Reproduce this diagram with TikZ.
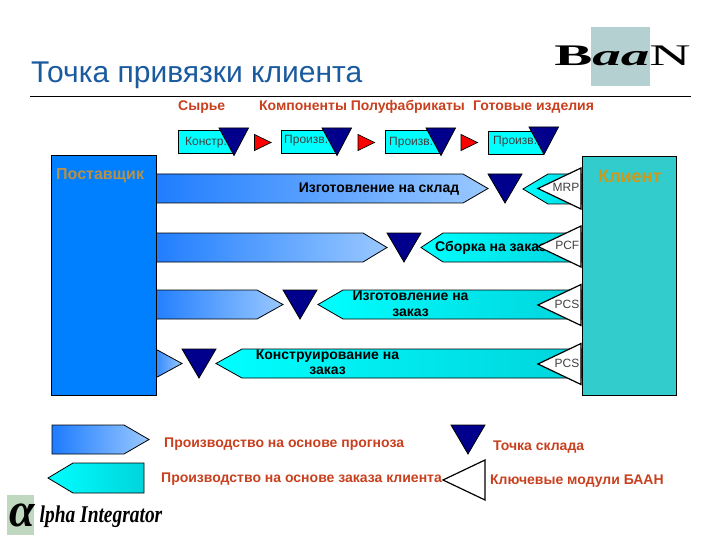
\documentclass[tikz,border=0pt]{standalone}
\usepackage{fontspec}
\setmainfont{Liberation Sans}
\newfontfamily\logoserif{Liberation Serif}
\usepackage{graphicx}
\definecolor{titleblue}{HTML}{1A5A9E}
\definecolor{labelred}{HTML}{C8401E}
\definecolor{stockblue}{HTML}{00008C}
\definecolor{suppliercol}{HTML}{0080FF}
\definecolor{clientcol}{HTML}{33CCCC}
\definecolor{suppliertext}{HTML}{B89048}
\definecolor{clienttext}{HTML}{D09818}
\definecolor{logogrey}{HTML}{B5D0D0}
\definecolor{logogreen}{HTML}{C0D8C0}
\definecolor{orderfill}{HTML}{00FFFF}
\definecolor{orderend}{HTML}{00D4DC}
\definecolor{forecastend}{HTML}{99C8FF}
\definecolor{forecaststart}{HTML}{1E7CFF}
\tikzset{
  stockmark/.style={draw=black,fill=stockblue,line width=0.8pt},
  modulemark/.style={draw=black,fill=white,line width=1.2pt},
  redmark/.style={draw=black,fill=red,line width=0.7pt},
  forecastarrow/.style={draw=black,line width=0.8pt,left color=forecaststart,right color=forecastend},
  orderarrow/.style={draw=black,line width=0.8pt,left color=orderfill,right color=orderend},
  redtext/.style={text=labelred,inner sep=0,text height=10pt,text depth=3pt,font=\bfseries\fontsize{14}{16}\selectfont},
  blacktext/.style={text=black,inner sep=0,align=center,font=\bfseries\fontsize{14}{15.5}\selectfont},
  smalltext/.style={text=black!75,inner sep=0,font=\fontsize{12}{14}\selectfont}
}
\begin{document}
\begin{tikzpicture}[x=1pt,y=-1pt]
        \useasboundingbox (0,0) rectangle (720,540);
        % title and logo
        \node[anchor=west,inner sep=0,text=titleblue,font=\fontsize{30}{33}\selectfont] (title) at (31,75.5) {Точка привязки клиента};
        \coordinate (ruleL) at (30,96.5);
        \coordinate (ruleR) at (691,96.5);
        \draw[line width=0.7pt] (ruleL) -- (ruleR);
        \fill[logogrey] (591,27) rectangle (650,86);
        \node[anchor=center,inner sep=0,font=\logoserif\fontsize{34}{34}\selectfont] (baan) at (622.5,56) {\scalebox{1.68}[0.88]{\textbf{B}\textit{\textbf{aa}}N}};
        % column heads
        \node[redtext,anchor=west] (raw) at (178,107.5) {Сырье};
        \node[redtext,anchor=west] (parts) at (259,107.5) {Компоненты Полуфабрикаты};
        \node[redtext,anchor=west] (ready) at (473,107.5) {Готовые изделия};
        % top boxes
        \foreach \x/\y/\tx/\ty/\txt/\n in {178/130/185/143/Констр./a,281/130/284/141/Произв./b,385/130/389/143/Произв./c,488/131/493/142/Произв./d} {
            \draw[fill=orderfill,line width=0.8pt] (\x,\y) rectangle ++(55,23);
            \node[smalltext,anchor=west] (box\n) at (\tx,\ty) {\txt};
        }
        \foreach \x/\y in {219/128,322/128,426/128,529/127} {
            \draw[stockmark] (\x,\y) -- ++(29.5,0) -- ++(-14.5,27.5) -- cycle;
        }
        \foreach \x/\y in {254.5/142.5,358/142.5,461/142.5} {
            \draw[redmark] (\x,\y-8) -- ++(16.5,8) -- ++(-16.5,8) -- cycle;
        }
        % forecast arrows
        \draw[forecastarrow] (150,174) -- (463,174) -- (488,188.5) -- (463,203) -- (150,203) -- cycle;
        \draw[forecastarrow] (150,233) -- (363,233) -- (387,247.5) -- (363,262) -- (150,262) -- cycle;
        \draw[forecastarrow] (150,290) -- (257,290) -- (283,304.5) -- (257,319) -- (150,319) -- cycle;
        \draw[forecastarrow] (150,346) -- (182,363.5) -- (150,381) -- cycle;
        % order arrows
        \draw[orderarrow] (523,189) -- (548,174) -- (582,174) -- (582,204) -- (548,204) -- cycle;
        \draw[orderarrow] (421,247.5) -- (443,233) -- (582,233) -- (582,262) -- (443,262) -- cycle;
        \draw[orderarrow] (318,304.5) -- (343,290) -- (582,290) -- (582,319) -- (343,319) -- cycle;
        \draw[orderarrow] (216,363.5) -- (242,349) -- (582,349) -- (582,378) -- (242,378) -- cycle;
        % stock points
        \foreach \x/\y in {488/174,387/233,283/290,182/349,451/425} {
            \draw[stockmark] (\x,\y) -- ++(34,0) -- ++(-17,29) -- cycle;
        }
        % suppliers and clients
        \node[draw=black,fill=suppliercol,line width=0.7pt,minimum width=105pt,minimum height=240pt,inner sep=0,anchor=north west] (supplier) at (51,155) {};
        \node[draw=black,fill=clientcol,line width=0.7pt,minimum width=94pt,minimum height=239pt,inner sep=0,anchor=north west] (client) at (582,156) {};
        \node[anchor=west,inner sep=0,text=suppliertext,font=\bfseries\fontsize{16}{18}\selectfont] (supplierlabel) at (56,176) {Поставщик};
        \node[anchor=west,inner sep=0,text=clienttext,font=\bfseries\fontsize{18}{20}\selectfont] (clientlabel) at (598,176) {Клиент};
        % row labels
        \node[blacktext] (stock) at (379,189) {Изготовление на склад};
        \node[blacktext,anchor=west] (assemble) at (435,248) {Сборка на заказ};
        \node[blacktext] (make) at (410.5,304) {Изготовление на\\заказ};
        \node[blacktext] (design) at (327.5,362.5) {Конструирование на\\заказ};
        % key modules
        \foreach \y/\txt/\n in {188.5/MRP/mrp,246.5/PCF/pcf,305/PCS/pcsa,364/PCS/pcsb} {
            \draw[modulemark] (581,\y-20.5) -- (581,\y+20.5) -- (538,\y) -- cycle;
            \node[smalltext,anchor=east] (\n) at (579.5,\y-1) {\txt};
        }
        % legend
        \draw[forecastarrow] (52,425) -- (124,425) -- (149,439.5) -- (124,454) -- (52,454) -- cycle;
        \draw[orderarrow] (48,478) -- (73,463) -- (144,463) -- (144,493) -- (73,493) -- cycle;
        \draw[modulemark] (485,460) -- (485,500) -- (443,480) -- cycle;
        \node[redtext,anchor=west] (forecast) at (164,444) {Производство на основе прогноза};
        \node[redtext,anchor=west] (order) at (161,479) {Производство на основе заказа клиента};
        \node[redtext,anchor=west] (stockkey) at (493,446.5) {Точка склада};
        \node[redtext,anchor=west] (modulekey) at (490,480.5) {Ключевые модули БААН};
        % lower logo
        \fill[logogreen] (7,495) rectangle (34,535);
        \node[anchor=center,inner sep=0,font=\logoserif\itshape\bfseries\fontsize{40}{40}\selectfont] (alpha) at (22,515) {\scalebox{1.15}[1.2]{α}};
        \node[anchor=west,inner sep=0,font=\logoserif\itshape\bfseries\fontsize{24}{24}\selectfont] (integrator) at (39.5,517) {\scalebox{0.81}[1]{lpha Integrator}};
\end{tikzpicture}
\end{document}
